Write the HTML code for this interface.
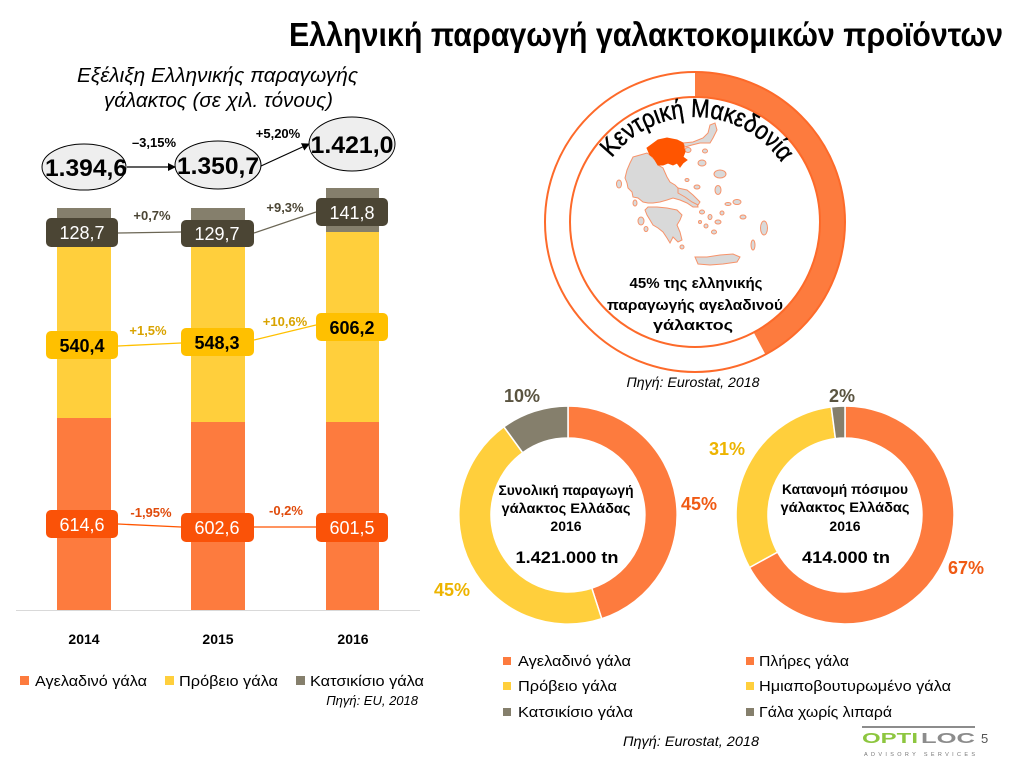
<!DOCTYPE html>
<html><head><meta charset="utf-8"><style>
html,body{margin:0;padding:0;background:#fff;}
svg{display:block;}
text{font-family:"Liberation Sans","DejaVu Sans",sans-serif;}
</style></head><body>
<svg width="1024" height="764" viewBox="0 0 1024 764" xmlns="http://www.w3.org/2000/svg">
<defs>
<marker id="ar" markerWidth="8" markerHeight="8" refX="7" refY="4" orient="auto" markerUnits="userSpaceOnUse"><path d="M0,0 L8,4 L0,8 Z" fill="#000"/></marker>
<path id="arcT" d="M591.6,203.8 A105,105 0 0 1 798.4,203.8"/>
</defs>

<!-- Title -->
<text x="289" y="46" font-size="33" font-weight="bold" fill="#000" textLength="714" lengthAdjust="spacingAndGlyphs">Ελληνική παραγωγή γαλακτοκομικών προϊόντων</text>

<!-- Subtitle -->
<text x="77" y="82" font-size="20" font-style="italic" fill="#000" textLength="281" lengthAdjust="spacingAndGlyphs">Εξέλιξη Ελληνικής παραγωγής</text>
<text x="104" y="107" font-size="20" font-style="italic" fill="#000" textLength="229" lengthAdjust="spacingAndGlyphs">γάλακτος (σε χιλ. τόνους)</text>

<!-- Ellipses -->
<ellipse cx="84" cy="167" rx="42" ry="23" fill="#EEEEEE" stroke="#000" stroke-width="1"/>
<ellipse cx="218" cy="165" rx="43" ry="24" fill="#EEEEEE" stroke="#000" stroke-width="1"/>
<ellipse cx="352" cy="144" rx="43" ry="27" fill="#EEEEEE" stroke="#000" stroke-width="1"/>
<text x="86" y="176" font-size="24" font-weight="bold" text-anchor="middle" textLength="82" lengthAdjust="spacingAndGlyphs">1.394,6</text>
<text x="218" y="174" font-size="24" font-weight="bold" text-anchor="middle" textLength="82" lengthAdjust="spacingAndGlyphs">1.350,7</text>
<text x="352" y="153" font-size="24" font-weight="bold" text-anchor="middle" textLength="83" lengthAdjust="spacingAndGlyphs">1.421,0</text>
<line x1="127" y1="167" x2="175" y2="167" stroke="#000" stroke-width="1.2" marker-end="url(#ar)"/>
<line x1="261" y1="166" x2="309" y2="144" stroke="#000" stroke-width="1.2" marker-end="url(#ar)"/>
<text x="154" y="147" font-size="13" font-weight="bold" text-anchor="middle">–3,15%</text>
<text x="278" y="138" font-size="13" font-weight="bold" text-anchor="middle">+5,20%</text>

<!-- Bars -->
<g>
<rect x="57" y="418" width="54" height="192" fill="#FD7B3E"/>
<rect x="191" y="422" width="54" height="188" fill="#FD7B3E"/>
<rect x="326" y="422" width="53" height="188" fill="#FD7B3E"/>
<rect x="57" y="247" width="54" height="171" fill="#FFCF3C"/>
<rect x="191" y="247" width="54" height="175" fill="#FFCF3C"/>
<rect x="326" y="232" width="53" height="190" fill="#FFCF3C"/>
<rect x="57" y="208" width="54" height="39" fill="#857F6C"/>
<rect x="191" y="208" width="54" height="39" fill="#857F6C"/>
<rect x="326" y="188" width="53" height="44" fill="#857F6C"/>
</g>
<line x1="16" y1="610.5" x2="420" y2="610.5" stroke="#D9D9D9" stroke-width="1"/>

<!-- Goat connectors -->
<polyline points="118,233 181,232" fill="none" stroke="#6B6655" stroke-width="1.3"/>
<polyline points="254,233 316,212" fill="none" stroke="#6B6655" stroke-width="1.3"/>
<rect x="46" y="218" width="72" height="29" rx="5" fill="#4B4534"/>
<rect x="181" y="220" width="73" height="27" rx="5" fill="#4B4534"/>
<rect x="316" y="198" width="72" height="28" rx="5" fill="#4B4534"/>
<text x="82" y="239" font-size="18" fill="#fff" text-anchor="middle">128,7</text>
<text x="217" y="240" font-size="18" fill="#fff" text-anchor="middle">129,7</text>
<text x="352" y="219" font-size="18" fill="#fff" text-anchor="middle">141,8</text>
<text x="152" y="220" font-size="13" font-weight="bold" fill="#4B4534" text-anchor="middle">+0,7%</text>
<text x="285" y="212" font-size="13" font-weight="bold" fill="#4B4534" text-anchor="middle">+9,3%</text>

<!-- Sheep connectors -->
<polyline points="118,346 181,343" fill="none" stroke="#FFC000" stroke-width="1.3"/>
<polyline points="254,340 316,325" fill="none" stroke="#FFC000" stroke-width="1.3"/>
<rect x="46" y="331" width="72" height="28" rx="5" fill="#FFC000"/>
<rect x="181" y="328" width="73" height="28" rx="5" fill="#FFC000"/>
<rect x="316" y="313" width="72" height="28" rx="5" fill="#FFC000"/>
<text x="82" y="352" font-size="18" font-weight="bold" fill="#000" text-anchor="middle">540,4</text>
<text x="217" y="349" font-size="18" font-weight="bold" fill="#000" text-anchor="middle">548,3</text>
<text x="352" y="334" font-size="18" font-weight="bold" fill="#000" text-anchor="middle">606,2</text>
<text x="148" y="335" font-size="13" font-weight="bold" fill="#D9A300" text-anchor="middle">+1,5%</text>
<text x="285" y="326" font-size="13" font-weight="bold" fill="#D9A300" text-anchor="middle">+10,6%</text>

<!-- Cow connectors -->
<polyline points="118,524 181,527" fill="none" stroke="#FF5500" stroke-width="1.3"/>
<polyline points="254,527 316,527" fill="none" stroke="#FF5500" stroke-width="1.3"/>
<rect x="46" y="510" width="72" height="28" rx="5" fill="#FA5208"/>
<rect x="181" y="513" width="73" height="29" rx="5" fill="#FA5208"/>
<rect x="316" y="513" width="72" height="29" rx="5" fill="#FA5208"/>
<text x="82" y="531" font-size="18" fill="#fff" text-anchor="middle">614,6</text>
<text x="217" y="534" font-size="18" fill="#fff" text-anchor="middle">602,6</text>
<text x="352" y="534" font-size="18" fill="#fff" text-anchor="middle">601,5</text>
<text x="151" y="517" font-size="13" font-weight="bold" fill="#E04A0A" text-anchor="middle">-1,95%</text>
<text x="286" y="515" font-size="13" font-weight="bold" fill="#E04A0A" text-anchor="middle">-0,2%</text>

<!-- Years -->
<text x="84" y="644" font-size="14" font-weight="bold" text-anchor="middle">2014</text>
<text x="218" y="644" font-size="14" font-weight="bold" text-anchor="middle">2015</text>
<text x="353" y="644" font-size="14" font-weight="bold" text-anchor="middle">2016</text>

<!-- Left legend -->
<rect x="20" y="676" width="9" height="9" fill="#FD7B3E"/>
<text x="35" y="686" font-size="15" textLength="112" lengthAdjust="spacingAndGlyphs">Αγελαδινό γάλα</text>
<rect x="165" y="676" width="9" height="9" fill="#FFCF3C"/>
<text x="179" y="686" font-size="15" textLength="99" lengthAdjust="spacingAndGlyphs">Πρόβειο γάλα</text>
<rect x="296" y="676" width="9" height="9" fill="#857F6C"/>
<text x="310" y="686" font-size="15" textLength="114" lengthAdjust="spacingAndGlyphs">Κατσικίσιο γάλα</text>
<text x="418" y="705" font-size="13" font-style="italic" text-anchor="end">Πηγή: EU, 2018</text>

<!-- Big circle -->
<path d="M695,72 A150,150 0 0 1 765.4,354.4 L753.7,332.4 A125,125 0 0 0 695,97 Z" fill="#FD7B3E"/>
<circle cx="695" cy="222" r="150" fill="none" stroke="#FD6A2A" stroke-width="2"/>
<circle cx="695" cy="222" r="125" fill="none" stroke="#FD6A2A" stroke-width="2"/>

<!-- Map of Greece -->
<g fill="#D9D9D9" stroke="#F7936A" stroke-width="1">
<polygon points="633,157 647,153 650,155 655,160 658,165 663,168 667,177 670,182 675,185 678,188 685,192 690,195 697,202 698,207 693,207 687,203 680,200 673,198 667,200 660,202 653,203 648,203 643,202 638,198 633,197 632,192 628,188 627,183 625,178 627,170 630,163"/>
<polygon points="683,143 693,142 703,138 708,133 710,125 715,123 717,130 713,138 710,143 700,143 692,145 685,147"/>
<polygon points="678,188 687,190 693,195 700,202 698,205 692,202 685,197 678,193"/>
<polygon points="648,207 657,207 667,208 677,210 682,215 680,220 677,225 680,232 682,240 678,242 673,237 670,243 667,238 663,232 658,228 653,225 650,220 647,215 645,210"/>
<polygon points="695,257 707,257 720,255 733,254 740,257 737,262 723,264 710,265 698,264"/>
<ellipse cx="688" cy="150" rx="3" ry="2.5"/>
<ellipse cx="705" cy="151" rx="2.5" ry="2"/>
<ellipse cx="702" cy="163" rx="4" ry="3"/>
<ellipse cx="720" cy="174" rx="6" ry="4"/>
<ellipse cx="718" cy="190" rx="3" ry="4.5"/>
<ellipse cx="737" cy="202" rx="4" ry="2.5"/>
<ellipse cx="728" cy="204" rx="3" ry="1.5"/>
<ellipse cx="619" cy="184" rx="2.5" ry="4"/>
<ellipse cx="635" cy="203" rx="2" ry="3"/>
<ellipse cx="641" cy="221" rx="3" ry="4"/>
<ellipse cx="646" cy="229" rx="2" ry="2.5"/>
<ellipse cx="697" cy="187" rx="3" ry="2"/>
<ellipse cx="687" cy="180" rx="2" ry="1.5"/>
<ellipse cx="682" cy="247" rx="2" ry="2"/>
<ellipse cx="743" cy="217" rx="3" ry="2"/>
<ellipse cx="764" cy="228" rx="3.5" ry="7"/>
<ellipse cx="753" cy="245" rx="2" ry="5"/>
<ellipse cx="702" cy="212" rx="2.5" ry="2"/>
<ellipse cx="710" cy="217" rx="2" ry="2.5"/>
<ellipse cx="718" cy="222" rx="3" ry="2"/>
<ellipse cx="706" cy="226" rx="2" ry="2"/>
<ellipse cx="714" cy="232" rx="2.5" ry="2"/>
<ellipse cx="722" cy="213" rx="2" ry="2"/>
<ellipse cx="700" cy="222" rx="1.5" ry="1.5"/>
</g>
<polygon points="647,148 658,140 667,138 677,140 683,143 685,152 683,157 687,160 683,163 680,167 677,163 673,165 668,163 663,165 658,165 655,160 653,157 650,155" fill="#FF5500" stroke="#FF5500" stroke-width="1"/>

<text font-size="26" fill="#000" stroke="#000" stroke-width="0.5" text-anchor="middle"><textPath href="#arcT" startOffset="51%" textLength="198" lengthAdjust="spacingAndGlyphs">Κεντρική Μακεδονία</textPath></text>

<text x="696" y="288" font-size="15" font-weight="bold" text-anchor="middle" textLength="133" lengthAdjust="spacingAndGlyphs">45% της ελληνικής</text>
<text x="695" y="310" font-size="15" font-weight="bold" text-anchor="middle" textLength="176" lengthAdjust="spacingAndGlyphs">παραγωγής αγελαδινού</text>
<text x="693" y="330" font-size="15" font-weight="bold" text-anchor="middle" textLength="80" lengthAdjust="spacingAndGlyphs">γάλακτος</text>
<text x="693" y="387" font-size="14" font-style="italic" text-anchor="middle" textLength="133" lengthAdjust="spacingAndGlyphs">Πηγή: Eurostat, 2018</text>

<!-- Donut 1 -->
<g stroke="#fff" stroke-width="1.5">
<path d="M568,406 A109,109 0 0 1 601.7,618.7 L591.8,588.2 A77,77 0 0 0 568,438 Z" fill="#FD7B3E"/>
<path d="M601.7,618.7 A109,109 0 0 1 503.9,426.8 L522.7,452.7 A77,77 0 0 0 591.8,588.2 Z" fill="#FFCF3C"/>
<path d="M503.9,426.8 A109,109 0 0 1 568,406 L568,438 A77,77 0 0 0 522.7,452.7 Z" fill="#857F6C"/>
</g>
<text x="522" y="402" font-size="18" font-weight="bold" fill="#5A5440" text-anchor="middle">10%</text>
<text x="699" y="510" font-size="18" font-weight="bold" fill="#F05A14" text-anchor="middle">45%</text>
<text x="452" y="596" font-size="18" font-weight="bold" fill="#EDB400" text-anchor="middle">45%</text>
<text x="566" y="495" font-size="14" font-weight="bold" text-anchor="middle" textLength="135" lengthAdjust="spacingAndGlyphs">Συνολική παραγωγή</text>
<text x="566" y="513" font-size="14" font-weight="bold" text-anchor="middle" textLength="129" lengthAdjust="spacingAndGlyphs">γάλακτος Ελλάδας</text>
<text x="566" y="531" font-size="14" font-weight="bold" text-anchor="middle">2016</text>
<text x="567" y="563" font-size="17" font-weight="bold" text-anchor="middle" textLength="103" lengthAdjust="spacingAndGlyphs">1.421.000 tn</text>

<!-- Donut 2 -->
<g stroke="#fff" stroke-width="1.5">
<path d="M845,406 A109,109 0 1 1 749.5,567.5 L777.5,552.1 A77,77 0 1 0 845,438 Z" fill="#FD7B3E"/>
<path d="M749.5,567.5 A109,109 0 0 1 831.3,406.9 L835.4,438.6 A77,77 0 0 0 777.5,552.1 Z" fill="#FFCF3C"/>
<path d="M831.3,406.9 A109,109 0 0 1 845,406 L845,438 A77,77 0 0 0 835.4,438.6 Z" fill="#857F6C"/>
</g>
<text x="842" y="402" font-size="18" font-weight="bold" fill="#5A5440" text-anchor="middle">2%</text>
<text x="727" y="455" font-size="18" font-weight="bold" fill="#EDB400" text-anchor="middle">31%</text>
<text x="966" y="574" font-size="18" font-weight="bold" fill="#F05A14" text-anchor="middle">67%</text>
<text x="845" y="494" font-size="14" font-weight="bold" text-anchor="middle" textLength="126" lengthAdjust="spacingAndGlyphs">Κατανομή πόσιμου</text>
<text x="845" y="512" font-size="14" font-weight="bold" text-anchor="middle" textLength="129" lengthAdjust="spacingAndGlyphs">γάλακτος Ελλάδας</text>
<text x="845" y="531" font-size="14" font-weight="bold" text-anchor="middle">2016</text>
<text x="846" y="563" font-size="17" font-weight="bold" text-anchor="middle" textLength="88" lengthAdjust="spacingAndGlyphs">414.000 tn</text>

<!-- Right legend -->
<rect x="503" y="657" width="8" height="8" fill="#FD7B3E"/>
<text x="518" y="666" font-size="15" textLength="113" lengthAdjust="spacingAndGlyphs">Αγελαδινό γάλα</text>
<rect x="503" y="682" width="8" height="8" fill="#FFCF3C"/>
<text x="518" y="691" font-size="15" textLength="99" lengthAdjust="spacingAndGlyphs">Πρόβειο γάλα</text>
<rect x="503" y="708" width="8" height="8" fill="#857F6C"/>
<text x="518" y="717" font-size="15" textLength="115" lengthAdjust="spacingAndGlyphs">Κατσικίσιο γάλα</text>
<rect x="746" y="657" width="8" height="8" fill="#FD7B3E"/>
<text x="759" y="666" font-size="15" textLength="90" lengthAdjust="spacingAndGlyphs">Πλήρες γάλα</text>
<rect x="746" y="682" width="8" height="8" fill="#FFCF3C"/>
<text x="759" y="691" font-size="15" textLength="192" lengthAdjust="spacingAndGlyphs">Ημιαποβουτυρωμένο γάλα</text>
<rect x="746" y="708" width="8" height="8" fill="#857F6C"/>
<text x="759" y="717" font-size="15" textLength="133" lengthAdjust="spacingAndGlyphs">Γάλα χωρίς λιπαρά</text>
<text x="691" y="746" font-size="14" font-style="italic" text-anchor="middle" textLength="136" lengthAdjust="spacingAndGlyphs">Πηγή: Eurostat, 2018</text>

<!-- Logo -->
<rect x="862" y="726" width="113" height="2" fill="#8C8C8C"/>
<text x="862" y="743" font-size="15" font-weight="bold" fill="#8DC63F" textLength="56" lengthAdjust="spacingAndGlyphs">OPTI</text>
<text x="921" y="743" font-size="15" font-weight="bold" fill="#8C8C8C" textLength="54" lengthAdjust="spacingAndGlyphs">LOC</text>
<text x="981" y="743" font-size="13" fill="#555" font-family="Liberation Serif, serif">5</text>
<text x="864" y="756" font-size="5.5" fill="#777" textLength="111" lengthAdjust="spacing">ADVISORY SERVICES</text>
</svg>
</body></html>
